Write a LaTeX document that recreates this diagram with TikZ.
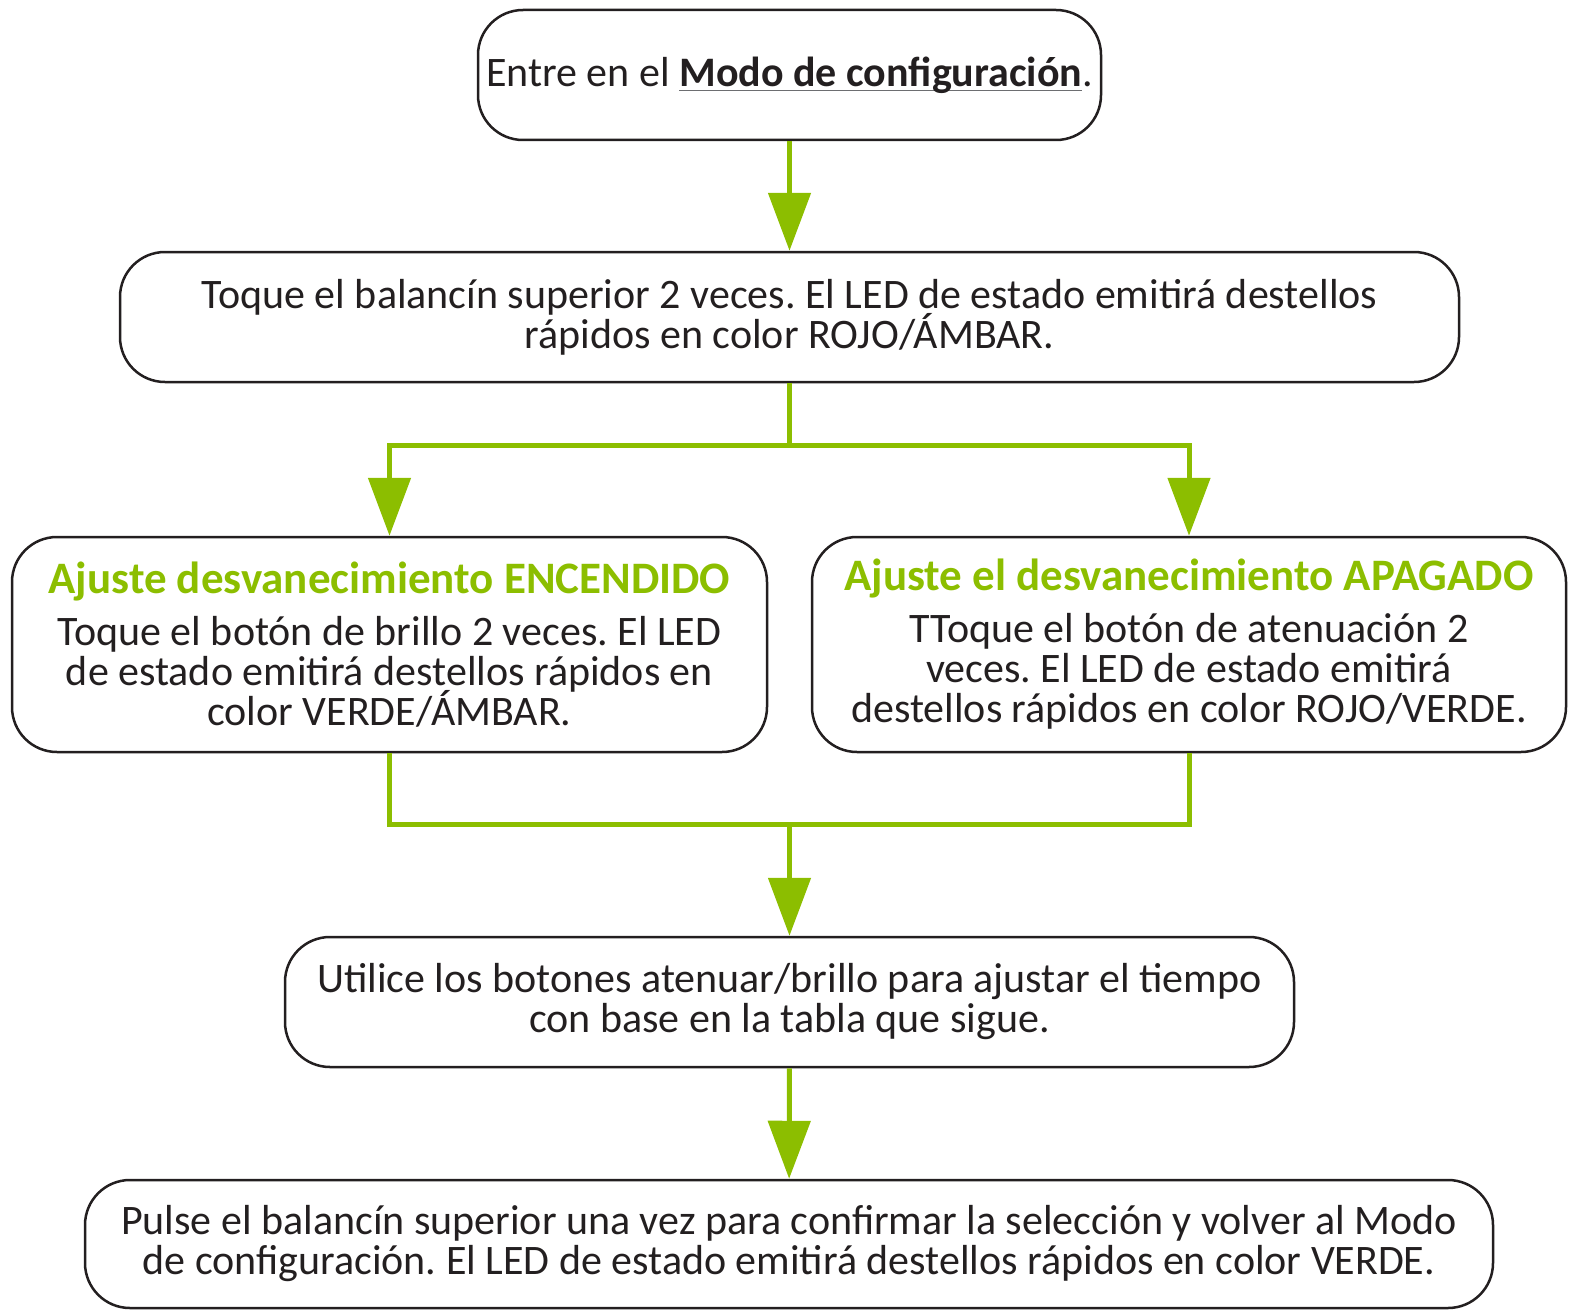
\documentclass[tikz,border=0pt]{standalone}
\usepackage{fontspec}
\setmainfont{Carlito}
\usepackage{tikz}
\usetikzlibrary{arrows.meta,positioning}
\definecolor{leafgreen}{HTML}{8CBE00}
\definecolor{inkdark}{HTML}{231F20}
\definecolor{linegray}{HTML}{6D6E71}
\frenchspacing
\newcommand{\ulink}[1]{\setbox0=\hbox{#1}\rlap{\textcolor{linegray}{\rule[-5pt]{\wd0}{1.5pt}}}\box0}
\newcommand{\heading}{\fontsize{45}{40}\selectfont\bfseries\color{leafgreen}}
\newcommand{\boxfont}{\fontsize{42}{40}\selectfont\lineskiplimit=-100pt\relax}
\tikzset{
  stepbox/.style={draw=inkdark, line width=2.5pt, rounded corners=45pt, align=center, inner sep=0pt, text=inkdark, font=\boxfont},
  flow/.style={-{Triangle[length=58pt,width=42pt]}, draw=leafgreen, line width=5pt},
  link/.style={draw=leafgreen, line width=5pt}
}
\begin{document}
\begin{tikzpicture}[x=1pt, y=-1pt]
\useasboundingbox (0,0) rectangle (1571,1311);
\node[stepbox, minimum width=623pt, minimum height=130pt] (enter) at (789.5,75) {Entre en el \ulink{\bfseries Modo de configuración}.};
\node[stepbox, minimum width=1339pt, minimum height=130pt] (toque) at (789.5,317) {Toque el balancín superior 2 veces. El LED de estado emitirá destellos\\rápidos en color ROJO/ÁMBAR.};
\node[stepbox, minimum width=755pt, minimum height=215pt] (fadeon) at (389.5,644.5) {{\heading Ajuste desvanecimiento ENCENDIDO}\\[12pt]Toque el botón de brillo 2 veces. El LED\\de estado emitirá destellos rápidos en\\color VERDE/ÁMBAR.};
\node[stepbox, minimum width=754pt, minimum height=215pt] (fadeoff) at (1189,644.5) {{\heading Ajuste el desvanecimiento APAGADO}\\[12pt]TToque el botón de atenuación 2\\veces. El LED de estado emitirá\\destellos rápidos en color ROJO/VERDE.};
\node[stepbox, minimum width=1009pt, minimum height=130pt] (adjust) at (789.5,1002) {Utilice los botones atenuar/brillo para ajustar el tiempo\\con base en la tabla que sigue.};
\node[stepbox, minimum width=1408pt, minimum height=128pt] (confirm) at (789,1244) {Pulse el balancín superior una vez para confirmar la selección y volver al Modo\\de configuración. El LED de estado emitirá destellos rápidos en color VERDE.};
% branch and merge points
\coordinate (split) at (789.5,445);
\coordinate (merge) at (789.5,824);
\draw[flow] (enter) -- (toque);
\draw[link] (toque.south) -- (split);
\draw[flow] (split) -| (fadeon.north);
\draw[flow] (split) -| (fadeoff.north);
\draw[link] (fadeon.south) |- (merge) -| (fadeoff.south);
\draw[flow] (merge) -- (adjust);
\draw[flow] (adjust) -- (confirm);
\end{tikzpicture}
\end{document}
